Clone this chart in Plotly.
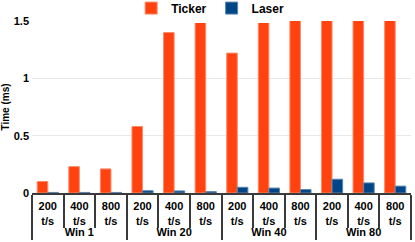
import plotly.graph_objects as go

groups = ["Win 1"] * 3 + ["Win 20"] * 3 + ["Win 40"] * 3 + ["Win 80"] * 3
rates = ["200<br>t/s", "400<br>t/s", "800<br>t/s"] * 4
ticker = [0.10, 0.23, 0.21, 0.58, 1.40, 1.60, 1.22, 1.60, 1.60, 1.60, 1.60, 1.60]
laser = [0.005, 0.005, 0.005, 0.02, 0.018, 0.012, 0.05, 0.043, 0.03, 0.12, 0.088, 0.06]

font_family = "Liberation Sans, Arial, sans-serif"

fig = go.Figure()
fig.add_trace(go.Bar(x=[groups, rates], y=ticker, name="Ticker",
                     marker=dict(color="#ff420e", line=dict(color="#ff8a6a", width=1))))
fig.add_trace(go.Bar(x=[groups, rates], y=laser, name="Laser",
                     marker=dict(color="#004586", line=dict(color="#5a86b0", width=1))))

fig.update_layout(
    width=415, height=242,
    margin=dict(l=32, r=4, t=21, b=49, autoexpand=False),
    paper_bgcolor="white", plot_bgcolor="white",
    bargap=0.33, bargroupgap=0,
    font=dict(family=font_family, size=11, color="black"),
    legend=dict(orientation="h", x=0.47, xanchor="center", y=1.075, yanchor="middle",
                font=dict(size=12, family=font_family, weight="bold"),
                itemwidth=30, tracegroupgap=0),
    showlegend=True,
)
fig.update_xaxes(
    type="multicategory", automargin=False,
    showline=True, linecolor="#3a3a3a", linewidth=2,
    ticks="outside", tickson="boundaries", ticklen=33, tickwidth=2, tickcolor="#3a3a3a",
    ticklabelstandoff=2,
    showdividers=True, dividercolor="#3a3a3a", dividerwidth=2,
    tickfont=dict(size=11, family=font_family, weight="bold", color="black"),
    showgrid=False,
)
fig.update_yaxes(
    range=[0, 1.5], tickvals=[0, 0.5, 1, 1.5], ticktext=["0", "0.5", "1", "1.5"],
    showgrid=True, gridcolor="#e8e8e8", gridwidth=1,
    showline=False, zeroline=False, automargin=False,
    tickfont=dict(size=11, family=font_family, weight="bold", color="black"),
    title=dict(text="Time (ms)", font=dict(size=10, family=font_family, weight="bold"), standoff=4),
    ticks="", ticklabelstandoff=2,
)
fig.write_html("out.html", config={"displayModeBar": False},
               post_script="document.body.style.margin='0px';")
